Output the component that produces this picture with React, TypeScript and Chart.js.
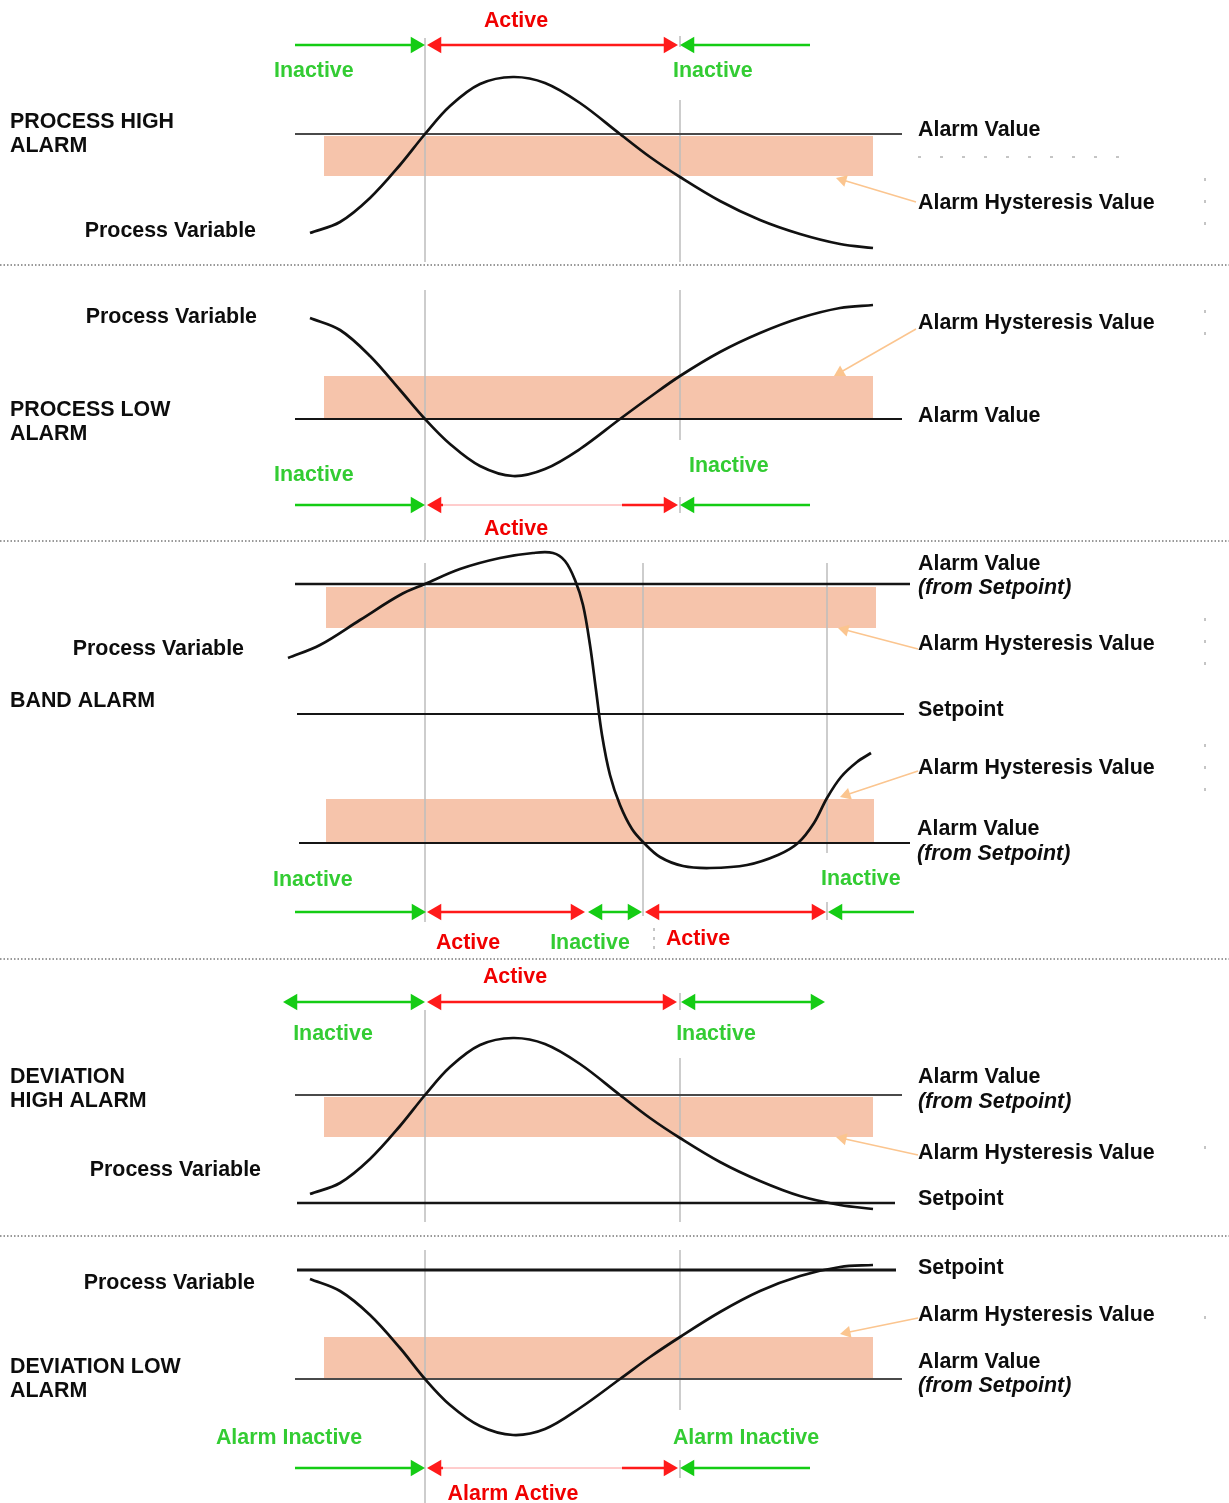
import React, { useEffect, useRef } from "react";
import { Chart, registerables } from "chart.js";
Chart.register(...registerables);

const CANVAS_W = 1229;
const CANVAS_H = 1503;

// ---------------- DATA ----------------
// Process variable traces (time, value) – one per panel
const pvHighT = [310, 340, 370, 400, 425, 450, 480, 513, 545, 580, 620, 650, 680, 720, 760, 800, 840, 873];
const pvHighV = [233, 222, 198, 165, 134, 106, 84, 77, 83, 103, 134, 157, 177, 201, 220, 234, 244, 248];

const pvLowT = [310, 340, 370, 400, 425, 450, 480, 513, 545, 580, 620, 650, 680, 720, 760, 800, 840, 873];
const pvLowV = [318, 330, 356, 390, 419, 444, 466, 476, 469, 449, 419, 397, 376, 352, 333, 318, 308, 305];

const pvBandT = [288, 320, 360, 400, 425, 460, 500, 533, 553, 565, 575, 583, 590, 596, 602, 610, 620, 632, 644, 660, 683, 710, 747, 778, 798, 814, 827, 841, 857, 871];
const pvBandV = [658, 645, 620, 595, 584, 569, 558, 553, 553, 561, 580, 605, 645, 690, 735, 775, 805, 829, 843, 857, 866, 868, 865, 855, 843, 823, 798, 777, 762, 753];

const pvDevHighT = [310, 340, 370, 400, 425, 450, 480, 513, 545, 580, 620, 650, 680, 720, 760, 800, 840, 873];
const pvDevHighV = [1194, 1183, 1159, 1126, 1095, 1067, 1045, 1038, 1044, 1064, 1095, 1118, 1138, 1162, 1181, 1196, 1205, 1209];

const pvDevLowT = [310, 340, 370, 400, 425, 450, 480, 513, 545, 580, 620, 650, 680, 720, 760, 800, 840, 873];
const pvDevLowV = [1279, 1291, 1315, 1348, 1379, 1405, 1426, 1435, 1429, 1408, 1379, 1357, 1337, 1312, 1291, 1276, 1267, 1265];

// Reference levels: [value, start, end, weight, grey]
const alarmLevels = [
  [134, 295, 902, 2, 1],
  [419, 295, 902, 2, 0],
  [584, 295, 910, 2.5, 0],
  [714, 297, 904, 2, 0],
  [843, 299, 910, 2, 0],
  [1095, 295, 902, 2, 1],
  [1203, 297, 895, 2.5, 0],
  [1270, 297, 896, 3, 0],
  [1379, 295, 902, 2, 1],
];

// Hysteresis bands: [start, end, upper value, lower value]
const hysteresisBands = [
  [324, 873, 136, 176],
  [324, 873, 376, 418],
  [326, 876, 587, 628],
  [326, 874, 799, 842],
  [324, 873, 1097, 1137],
  [324, 873, 1337, 1378],
];

// State change markers: [time, from, to]
const stateMarkers = [
  [425, 38, 262], [680, 100, 262], [680, 36, 47],
  [425, 290, 540], [680, 290, 440], [680, 497, 513],
  [425, 563, 922], [643, 563, 916], [827, 563, 853], [827, 902, 920],
  [425, 1010, 1222], [680, 1058, 1222], [680, 993, 1010],
  [425, 1250, 1503], [680, 1250, 1410], [680, 1460, 1478],
];

// Alarm state timelines: [level, start, end, state, heads]
const stateTimeline: [number, number, number, string, string][] = [
  [45, 295, 425, "off", "e"], [45, 427, 678, "on", "b"], [45, 680, 810, "off", "s"],
  [505, 295, 425, "off", "e"], [505, 427, 443, "on", "s"], [505, 443, 622, "thin", ""], [505, 622, 678, "on", "e"], [505, 680, 810, "off", "s"],
  [912, 295, 426, "off", "e"], [912, 427, 585, "on", "b"], [912, 588, 642, "off", "b"], [912, 645, 826, "on", "b"], [912, 828, 914, "off", "s"],
  [1002, 283, 425, "off", "b"], [1002, 427, 677, "on", "b"], [1002, 681, 825, "off", "b"],
  [1468, 295, 425, "off", "e"], [1468, 427, 443, "on", "s"], [1468, 443, 622, "thin", ""], [1468, 622, 678, "on", "e"], [1468, 680, 810, "off", "s"],
];

// Hysteresis call-out pointers: [from t, from v, to t, to v]
const pointers = [
  [916, 202, 836, 178],
  [916, 329, 834, 376],
  [918, 649, 838, 628],
  [918, 771, 840, 797],
  [918, 1155, 836, 1137],
  [918, 1318, 840, 1334],
];

const separators = [265, 541, 959, 1236];

// Texts: [text, t, v, colour key, align, italic]
const texts: [string, number, number, string, string, boolean][] = [
  ["Active", 516, 19, "r", "center", false],
  ["Inactive", 274, 69, "g", "left", false],
  ["Inactive", 673, 69, "g", "left", false],
  ["PROCESS HIGH", 10, 120, "k", "left", false],
  ["ALARM", 10, 144, "k", "left", false],
  ["Process Variable", 256, 229, "k", "right", false],
  ["Alarm Value", 918, 128, "k", "left", false],
  ["Alarm Hysteresis Value", 918, 201, "k", "left", false],

  ["Process Variable", 257, 315, "k", "right", false],
  ["Alarm Hysteresis Value", 918, 321, "k", "left", false],
  ["PROCESS LOW", 10, 408, "k", "left", false],
  ["ALARM", 10, 432, "k", "left", false],
  ["Alarm Value", 918, 414, "k", "left", false],
  ["Inactive", 274, 473, "g", "left", false],
  ["Inactive", 689, 464, "g", "left", false],
  ["Active", 516, 527, "r", "center", false],

  ["Alarm Value", 918, 562, "k", "left", false],
  ["(from Setpoint)", 918, 586, "k", "left", true],
  ["Process Variable", 244, 647, "k", "right", false],
  ["Alarm Hysteresis Value", 918, 642, "k", "left", false],
  ["BAND ALARM", 10, 699, "k", "left", false],
  ["Setpoint", 918, 708, "k", "left", false],
  ["Alarm Hysteresis Value", 918, 766, "k", "left", false],
  ["Alarm Value", 917, 827, "k", "left", false],
  ["(from Setpoint)", 917, 852, "k", "left", true],
  ["Inactive", 273, 878, "g", "left", false],
  ["Inactive", 821, 877, "g", "left", false],
  ["Active", 468, 941, "r", "center", false],
  ["Inactive", 590, 941, "g", "center", false],
  ["Active", 698, 937, "r", "center", false],

  ["Active", 515, 975, "r", "center", false],
  ["Inactive", 333, 1032, "g", "center", false],
  ["Inactive", 716, 1032, "g", "center", false],
  ["DEVIATION", 10, 1075, "k", "left", false],
  ["HIGH ALARM", 10, 1099, "k", "left", false],
  ["Alarm Value", 918, 1075, "k", "left", false],
  ["(from Setpoint)", 918, 1100, "k", "left", true],
  ["Alarm Hysteresis Value", 918, 1151, "k", "left", false],
  ["Process Variable", 261, 1168, "k", "right", false],
  ["Setpoint", 918, 1197, "k", "left", false],

  ["Setpoint", 918, 1266, "k", "left", false],
  ["Process Variable", 255, 1281, "k", "right", false],
  ["Alarm Hysteresis Value", 918, 1313, "k", "left", false],
  ["Alarm Value", 918, 1360, "k", "left", false],
  ["(from Setpoint)", 918, 1384, "k", "left", true],
  ["DEVIATION LOW", 10, 1365, "k", "left", false],
  ["ALARM", 10, 1389, "k", "left", false],
  ["Alarm Inactive", 289, 1436, "g", "center", false],
  ["Alarm Inactive", 746, 1436, "g", "center", false],
  ["Alarm Active", 513, 1492, "r", "center", false],
];

// ---------------- STYLE ----------------
const TEXT_COLORS: Record<string, string> = { k: "#0d0d0d", g: "#33cc33", r: "#f00000" };
const STATE_COLORS: Record<string, string> = { off: "#14cc14", on: "#ff1a1a", thin: "#ff9a9a" };
const BAND_COLOR = "#f6c4ab";
const POINTER_COLOR = "#fbc58f";
const HEAD_R = 9.5;

const pts = (xs: number[], ys: number[]) => xs.map((x, i) => ({ x, y: ys[i] }));

const textPlugin = {
  id: "diagramTexts",
  afterDatasetsDraw(chart: any) {
    const { ctx, scales } = chart;
    ctx.save();
    ctx.textBaseline = "alphabetic";
    for (const [t, x, y, c, a, it] of texts) {
      ctx.font = `${it ? "italic " : ""}bold 21.4px "Liberation Sans", Arial, sans-serif`;
      ctx.fillStyle = TEXT_COLORS[c];
      ctx.textAlign = a;
      ctx.fillText(t, scales.x.getPixelForValue(x), scales.y.getPixelForValue(y) + 7.6);
    }
    ctx.restore();
  },
};

export default function App() {
  const ref = useRef<HTMLCanvasElement>(null);

  useEffect(() => {
    const datasets: any[] = [];
    const seg = (data: any[], color: string, width: number, order: number, extra: any = {}) =>
      datasets.push({ data, borderColor: color, borderWidth: width, pointRadius: 0, fill: false, tension: 0, order, ...extra });

    // separators
    separators.forEach((y) => seg([{ x: 0, y }, { x: CANVAS_W, y }], "#333", 1, 20, { borderDash: [1.5, 2] }));

    // hysteresis bands
    hysteresisBands.forEach(([a, b, top, bot]) =>
      datasets.push({
        data: [{ x: a, y: top }, { x: b, y: top }],
        borderColor: "rgba(0,0,0,0)",
        borderWidth: 0,
        backgroundColor: BAND_COLOR,
        fill: { value: bot },
        pointRadius: 0,
        order: 15,
      })
    );

    // state markers
    stateMarkers.forEach(([t, a, b]) => seg([{ x: t, y: a }, { x: t, y: b }], "#bdbdbd", 1.5, 12));

    // minor dashed guides
    seg([{ x: 918, y: 157 }, { x: 1120, y: 157 }], "#8a8a8a", 1, 12, { borderDash: [3, 19] });
    seg([{ x: 654, y: 928 }, { x: 654, y: 951 }], "#8a8a8a", 1, 12, { borderDash: [3, 6] });
    [[178, 228], [310, 338], [618, 668], [744, 796], [1146, 1162], [1316, 1330]].forEach(([a, b]) =>
      seg([{ x: 1205, y: a }, { x: 1205, y: b }], "#8a8a8a", 1, 12, { borderDash: [3, 19] })
    );

    // alarm / setpoint levels
    alarmLevels.forEach(([v, a, b, w, grey]) => seg([{ x: a, y: v }, { x: b, y: v }], grey ? "#4a4a4a" : "#151515", w, 8));

    // process variable traces
    [
      [pvHighT, pvHighV],
      [pvLowT, pvLowV],
      [pvBandT, pvBandV],
      [pvDevHighT, pvDevHighV],
      [pvDevLowT, pvDevLowV],
    ].forEach(([t, v]) => seg(pts(t, v), "#111", 2.7, 5, { tension: 0.35 }));

    // hysteresis call-out pointers
    pointers.forEach(([x1, y1, x2, y2]) => {
      const dx = x2 - x1, dy = y2 - y1;
      const len = Math.hypot(dx, dy);
      const r = 7;
      const rot = (Math.atan2(dx, -dy) * 180) / Math.PI;
      seg([{ x: x1, y: y1 }, { x: x2 - (dx / len) * r, y: y2 - (dy / len) * r }], POINTER_COLOR, 1.5, 3, {
        pointRadius: [0, r],
        pointStyle: "triangle",
        pointRotation: [0, rot],
        pointBackgroundColor: POINTER_COLOR,
        pointBorderWidth: 0,
      });
    });

    // alarm state timelines with arrow heads
    stateTimeline.forEach(([y, a, b, state, heads]) => {
      const color = STATE_COLORS[state];
      const hs = heads === "s" || heads === "b";
      const he = heads === "e" || heads === "b";
      seg([{ x: hs ? a + HEAD_R : a, y }, { x: he ? b - HEAD_R : b, y }], color, state === "thin" ? 1 : 2.5, 1, {
        pointRadius: [hs ? HEAD_R : 0, he ? HEAD_R : 0],
        pointStyle: "triangle",
        pointRotation: [-90, 90],
        pointBackgroundColor: color,
        pointBorderWidth: 0,
      });
    });

    const chart = new Chart(ref.current as HTMLCanvasElement, {
      type: "line",
      data: { datasets },
      options: {
        animation: false,
        responsive: false,
        maintainAspectRatio: false,
        events: [],
        layout: { padding: 0, autoPadding: false },
        plugins: { legend: { display: false }, tooltip: { enabled: false } },
        scales: {
          x: { type: "linear", min: 0, max: CANVAS_W, display: false },
          y: { type: "linear", min: 0, max: CANVAS_H, reverse: true, display: false },
        },
      },
      plugins: [textPlugin],
    } as any);
    return () => chart.destroy();
  }, []);

  return (
    <div style={{ position: "absolute", left: 0, top: 0, width: CANVAS_W, height: CANVAS_H, background: "#fff", overflow: "hidden" }}>
      <canvas ref={ref} width={CANVAS_W} height={CANVAS_H} style={{ display: "block" }} />
    </div>
  );
}
